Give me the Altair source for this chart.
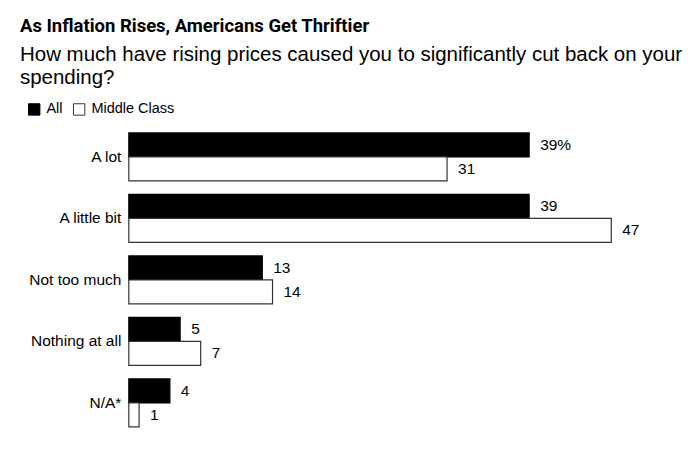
import altair as alt
import pandas as pd

categories = ["A lot", "A little bit", "Not too much", "Nothing at all", "N/A*"]
all_vals = [39, 39, 13, 5, 4]
mc_vals = [31, 47, 14, 7, 1]
series = ["All", "Middle Class"]

rows = []
for i, c in enumerate(categories):
    for s, vals in zip(series, [all_vals, mc_vals]):
        v = vals[i]
        lab = f"{v}%" if (i == 0 and s == "All") else f"{v}"
        rows.append({"cat": c, "series": s, "val": v, "label": lab})
df = pd.DataFrame(rows)

FONT = "Liberation Sans"

base = alt.Chart(df).encode(
    y=alt.Y("cat:N", sort=categories,
            scale=alt.Scale(paddingInner=0.22, paddingOuter=0.11),
            axis=alt.Axis(title=None, ticks=False, domain=False, labelPadding=8,
                          labelFontSize=15.5, labelFont=FONT, labelColor="#000",
                          labelLimit=300)),
    yOffset=alt.YOffset("series:N", sort=series),
    x=alt.X("val:Q", scale=alt.Scale(domain=[0, 50]), axis=None),
)

bars = base.mark_bar(strokeWidth=1.2).encode(
    fill=alt.Fill("series:N", sort=series,
                  scale=alt.Scale(domain=series, range=["#000000", "#ffffff"]),
                  legend=alt.Legend(title=None, orient="none", legendX=-102, legendY=-24,
                                    direction="horizontal", symbolType="square",
                                    symbolSize=130, symbolStrokeColor="#000",
                                    symbolStrokeWidth=1, labelFontSize=14.5,
                                    labelFont=FONT, labelColor="#000",
                                    columnPadding=8, labelOffset=5)),
    stroke=alt.Stroke("series:N", sort=series,
                      scale=alt.Scale(domain=series, range=["#000000", "#333333"]),
                      legend=None),
)

text = base.mark_text(align="left", baseline="middle", dx=11, fontSize=15.5,
                      font=FONT, color="#000").encode(text="label:N")

chart = alt.layer(bars, text).properties(
    width=514, height=308,
    autosize=alt.AutoSizeParams(type="none"),
    padding={"left": 121, "top": 118, "right": 50, "bottom": 20},
    title=alt.TitleParams(
        text="As Inflation Rises, Americans Get Thriftier",
        subtitle=["How much have rising prices caused you to significantly cut back on your",
                  "spending?"],
        anchor="start", frame="group", dx=-109,
        font="Roboto", fontSize=18.5, fontWeight="bold", color="#000",
        subtitleFont=FONT, subtitleFontSize=20.5, subtitleColor="#000",
        subtitlePadding=9, subtitleLineHeight=23, offset=14,
    ),
).configure_view(stroke=None)

chart.save("out.html", embed_options={"renderer": "svg", "actions": False})
